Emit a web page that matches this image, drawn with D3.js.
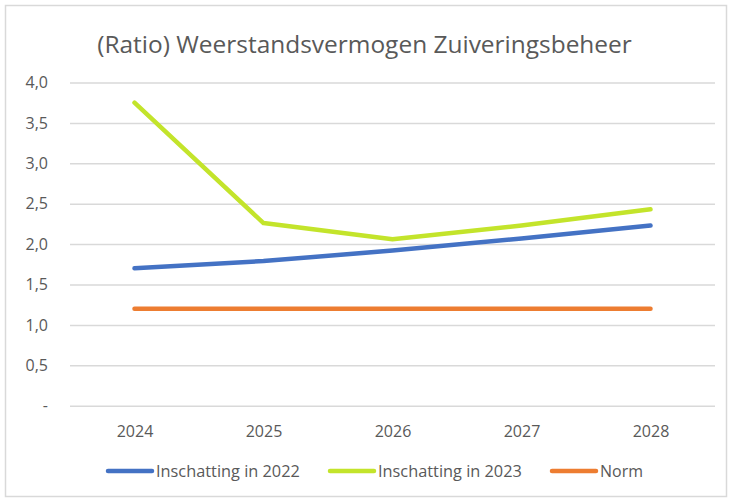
<!DOCTYPE html>
<html><head><meta charset="utf-8">
<script src="https://cdn.jsdelivr.net/npm/d3@7"></script>
<style>body{margin:0;background:#fff}svg{display:block}</style>
</head><body>
<script>
const years = ["2024","2025","2026","2027","2028"];
const inschatting2022 = [1.70, 1.79, 1.92, 2.07, 2.23];
const inschatting2023 = [3.75, 2.26, 2.06, 2.23, 2.43];
const norm = [1.2, 1.2, 1.2, 1.2, 1.2];
const yTicks = [0, 0.5, 1, 1.5, 2, 2.5, 3, 3.5, 4];
const seriesNames = ["Inschatting in 2022", "Inschatting in 2023", "Norm"];
const colors = ["#4472C4", "#C3E42B", "#ED7D31"];
const title = "(Ratio) Weerstandsvermogen Zuiveringsbeheer";

(function () {
const W = 729, H = 499;
const font = "'Open Sans', 'Noto Sans', sans-serif";
const svg = d3.select("body").append("svg").attr("width", W).attr("height", H);
svg.append("rect").attr("x", 5.5).attr("y", 5.5).attr("width", W - 8).attr("height", H - 8)
  .attr("fill", "#fff").attr("stroke", "#D9D9D9").attr("stroke-width", 1.5);

const pLeft = 70, pRight = 715, pTop = 82.5, pBottom = 405.7;
const x = d3.scalePoint().domain(years).range([pLeft, pRight]).padding(0.5);
const y = d3.scaleLinear().domain([0, 4]).range([pBottom, pTop]);

function fit(sel, target) {
  const len = sel.node().getComputedTextLength();
  const fs = parseFloat(sel.attr("font-size"));
  sel.attr("font-size", fs * target / len);
}

const t = svg.append("text").attr("x", 364.5).attr("y", 53).attr("text-anchor", "middle")
  .attr("font-family", font).attr("font-size", 22).attr("fill", "#595959").text(title);
fit(t, 535);

const yAxis = d3.axisLeft(y).tickValues(yTicks).tickSize(-(pRight - pLeft)).tickPadding(22)
  .tickFormat(d => d === 0 ? "-" : d3.format(".1f")(d).replace(".", ","));
const ga = svg.append("g").attr("transform", `translate(${pLeft},0)`).call(yAxis);
ga.select(".domain").remove();
ga.selectAll(".tick line").attr("stroke", "#D9D9D9").attr("stroke-width", 1.5);
ga.selectAll(".tick text").attr("font-family", font).attr("font-size", 16).attr("fill", "#595959");

const xAxis = d3.axisBottom(x).tickSize(0).tickPadding(20);
const gx = svg.append("g").attr("transform", `translate(0,${pBottom})`).call(xAxis);
gx.select(".domain").remove();
gx.selectAll(".tick text").attr("font-family", font).attr("font-size", 16).attr("fill", "#595959");

const line = d3.line().x((d, i) => x(years[i])).y(d => y(d));
[inschatting2022, inschatting2023, norm].forEach((s, k) => {
  svg.append("path").datum(s).attr("d", line).attr("fill", "none")
    .attr("stroke", colors[k]).attr("stroke-width", 4.5)
    .attr("stroke-linecap", "round").attr("stroke-linejoin", "round");
});

const legendX = [108, 330, 552];
const legendTextW = [144, 144, 43];
const ly = 471;
seriesNames.forEach((n, k) => {
  const lx = legendX[k];
  svg.append("line").attr("x1", lx).attr("x2", lx + 44).attr("y1", ly).attr("y2", ly)
    .attr("stroke", colors[k]).attr("stroke-width", 4.5).attr("stroke-linecap", "round");
  const tt = svg.append("text").attr("x", lx + 48).attr("y", ly + 5.5)
    .attr("font-family", font).attr("font-size", 14).attr("fill", "#595959").text(n);
  fit(tt, legendTextW[k]);
});
})();
</script>
</body></html>
